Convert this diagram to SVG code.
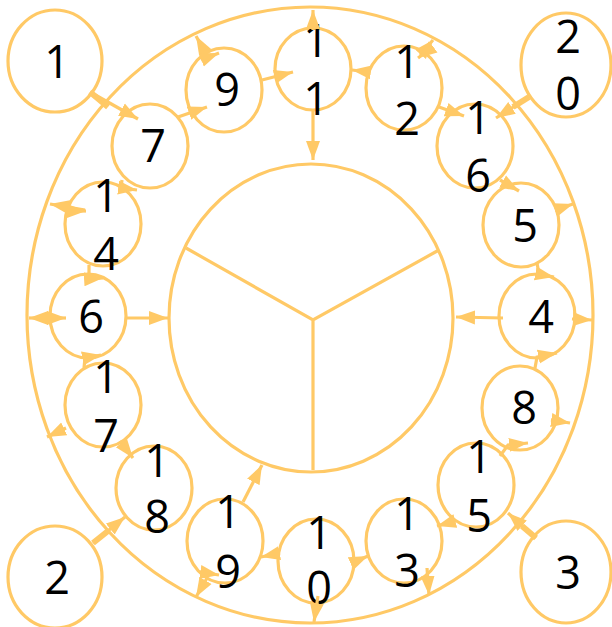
<svg xmlns="http://www.w3.org/2000/svg" width="612" height="627" viewBox="0 0 612 627">
<defs>
<marker id="ah" markerUnits="userSpaceOnUse" markerWidth="20" markerHeight="16" viewBox="0 0 20 16" refX="19" refY="8" orient="auto">
<path d="M0,1 L19,8 L0,15 Z" fill="#ffc966"/>
</marker>
<style>
.n{fill:none;stroke:#ffc966;stroke-width:3.2}
.e{fill:none;stroke:#ffc966;stroke-width:3.2;marker-end:url(#ah)}
.t{fill:none;stroke:#ffc966;stroke-width:6}
.l{stroke:#ffc966;stroke-width:3.2;fill:none}
text{font-family:"Open Sans","DejaVu Sans",sans-serif;font-size:45px;fill:#000;text-anchor:middle}
</style>
</defs>
<rect width="612" height="627" fill="#fff"/>
<g id="outer"><ellipse class="n" cx="310" cy="315" rx="283" ry="308"/></g>
<g id="center">
<ellipse class="n" cx="311" cy="318" rx="142" ry="154"/>
<path class="l" d="M186,248 L313,320 L439,250 M313,320 L313,470"/>
</g>
<g id="n1"><ellipse class="n" cx="55" cy="61" rx="47" ry="51"/><text x="57" y="78">1</text></g>
<g id="n2"><ellipse class="n" cx="55" cy="577" rx="47" ry="51"/><text x="57" y="594">2</text></g>
<g id="n3"><ellipse class="n" cx="566" cy="572" rx="45" ry="51"/><text x="568" y="589">3</text></g>
<g id="n20"><ellipse class="n" cx="566" cy="65" rx="45" ry="52"/><text x="568" y="53">2</text><text x="568" y="110">0</text></g>
<g id="n7"><ellipse class="n" cx="150" cy="146" rx="38" ry="42"/><text x="153" y="162">7</text></g>
<g id="n9"><ellipse class="n" cx="224" cy="90" rx="38" ry="42"/><text x="227" y="106">9</text></g>
<g id="n11"><ellipse class="n" cx="313" cy="69" rx="38" ry="41"/><text x="316" y="57">1</text><text x="316" y="115">1</text></g>
<g id="n12"><ellipse class="n" cx="404" cy="88" rx="38" ry="42"/><text x="407" y="78">1</text><text x="407" y="135">2</text></g>
<g id="n16"><ellipse class="n" cx="475" cy="146" rx="38" ry="42"/><text x="478" y="134">1</text><text x="478" y="192">6</text></g>
<g id="n5"><ellipse class="n" cx="521" cy="225" rx="38" ry="42"/><text x="525" y="242">5</text></g>
<g id="n4"><ellipse class="n" cx="537" cy="316" rx="38" ry="42"/><text x="541" y="333">4</text></g>
<g id="n8"><ellipse class="n" cx="520" cy="408" rx="38" ry="42"/><text x="524" y="424">8</text></g>
<g id="n15"><ellipse class="n" cx="476" cy="485" rx="38" ry="42"/><text x="479" y="473">1</text><text x="479" y="532">5</text></g>
<g id="n13"><ellipse class="n" cx="404" cy="541" rx="38" ry="42"/><text x="407" y="530">1</text><text x="407" y="587">3</text></g>
<g id="n10"><ellipse class="n" cx="316" cy="561" rx="38" ry="42"/><text x="319" y="549">1</text><text x="319" y="604">0</text></g>
<g id="n19"><ellipse class="n" cx="225" cy="541" rx="38" ry="42"/><text x="228" y="528">1</text><text x="228" y="588">9</text></g>
<g id="n18"><ellipse class="n" cx="154" cy="488" rx="38" ry="42"/><text x="157" y="477">1</text><text x="157" y="533">8</text></g>
<g id="n17"><ellipse class="n" cx="103" cy="405" rx="38" ry="42"/><text x="106" y="393">1</text><text x="106" y="452">7</text></g>
<g id="n6"><ellipse class="n" cx="88" cy="316" rx="38" ry="42"/><text x="91" y="333">6</text></g>
<g id="n14"><ellipse class="n" cx="103" cy="224" rx="38" ry="42"/><text x="106" y="212">1</text><text x="106" y="270">4</text></g>
<g id="edges">
<path class="t" d="M90,92 L108,107"/>
<path class="e" d="M90,92 L138,119"/>
<path class="e" d="M178,117 L207,107"/>
<path class="e" d="M205,52 L196,36"/>
<path class="e" d="M201,60 L219,53"/>
<path class="e" d="M262,80 L293,72"/>
<path class="e" d="M313,30 L313,10"/>
<path class="e" d="M313,110 L313,160"/>
<path class="e" d="M368,72 L352,70"/>
<path class="e" d="M420,55 L433,40"/>
<path class="e" d="M433,47 L418,58"/>
<path class="e" d="M439,107 L464,116"/>
<path class="t" d="M529,97 L513,107"/>
<path class="e" d="M529,97 L496,118"/>
<path class="e" d="M500,180 L519,191"/>
<path class="e" d="M555,210 L573,204"/>
<path class="e" d="M537,263 L539,274 L554,277"/>
<path class="e" d="M503,318 L456,317"/>
<path class="e" d="M572,319 L592,320"/>
<path class="e" d="M535,368 L537,357 L557,353"/>
<path class="e" d="M551,420 L570,423"/>
<path class="e" d="M500,456 L508,445 L528,443"/>
<path class="t" d="M536,538 L522,526"/>
<path class="e" d="M536,538 L508,513"/>
<path class="e" d="M455,521 L437,526"/>
<path class="e" d="M427,568 L429,595"/>
<path class="e" d="M352,563 L368,556"/>
<path class="e" d="M318,596 L314,622"/>
<path class="e" d="M243,502 L262,465"/>
<path class="e" d="M280,553 L261,557"/>
<path class="e" d="M207,578 L196,597"/>
<path class="e" d="M200,572 L219,575"/>
<path class="t" d="M93,543 L108,531"/>
<path class="e" d="M93,543 L125,517"/>
<path class="e" d="M120,441 L133,458"/>
<path class="e" d="M66,428 L47,437"/>
<path class="e" d="M84,368 L85,358 L101,355"/>
<path class="e" d="M126,318 L168,318"/>
<path class="e" d="M50,318 L29,318"/>
<path class="e" d="M48,318 L66,318"/>
<path class="e" d="M89,265 L89,279 L103,278"/>
<path class="e" d="M85,210 L50,204"/>
<path class="e" d="M68,211 L86,211"/>
<path class="e" d="M122,180 L121,188 L137,190"/>
</g>
</svg>
